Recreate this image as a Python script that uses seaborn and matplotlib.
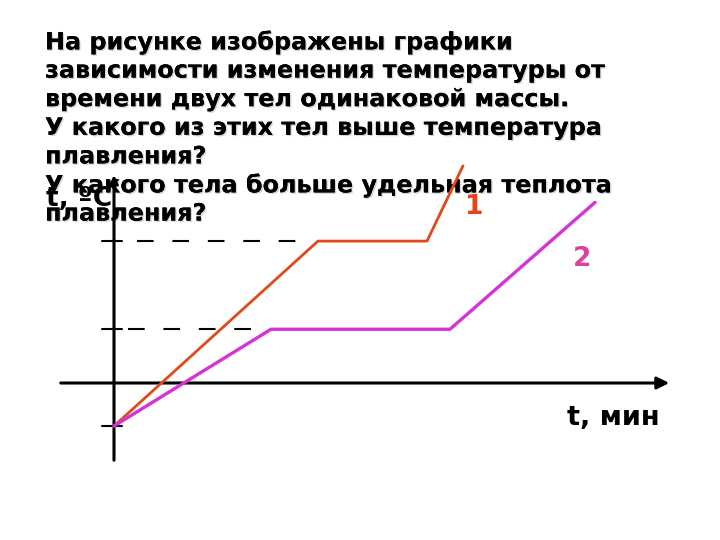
import pandas as pd
import seaborn as sns
import matplotlib.pyplot as plt
import matplotlib.patheffects as pe

# --- данные (читаются с картинки) ---
body1_time = [0, 20.4, 31.3, 34.9]
body1_temp = [-20, 66, 66, 101]
body2_time = [0, 15.7, 33.6, 48.1]
body2_temp = [-20, 25, 25, 84]
level_temps = [66, 25, -20]

question_lines = [
    "На рисунке изображены графики",
    "зависимости изменения температуры от",
    "времени двух тел одинаковой массы.",
    "У какого из этих тел выше температура",
    "плавления?",
    "У какого тела больше удельная теплота",
    "плавления?",
]

df = pd.concat([
    pd.DataFrame({"t": body1_time, "T": body1_temp, "тело": "1"}),
    pd.DataFrame({"t": body2_time, "T": body2_temp, "тело": "2"}),
])

sns.set_style("white")
plt.rcParams['font.family'] = ['DejaVu Sans']
plt.rcParams['text.color'] = 'black'

fig = plt.figure(figsize=(7.2, 5.4), dpi=100)
ax = fig.add_axes([0, 0, 1, 1])
ax.set_xlim(-11.4, 60.6)
ax.set_ylim(-73.02, 178.14)
ax.axis("off")

shadow = [pe.withSimplePatchShadow(offset=(1.0, -1.0), shadow_rgbFace="#aaaaaa", alpha=0.5), pe.Normal()]

# текст вопроса
for i, line in enumerate(question_lines):
    ax.text(45 / 720, 1 - (42 + 28.6 * i) / 540, line, transform=ax.transAxes,
            fontsize=17.2, fontweight="bold", va="center", ha="left",
            color="black", zorder=1, path_effects=shadow)

# оси
ax.annotate("", xy=(0, 98), xytext=(0, -37.2),
            arrowprops=dict(arrowstyle="-|>", lw=2.2, color="black", mutation_scale=12),
            zorder=2)
ax.annotate("", xy=(55.8, 0), xytext=(-5.6, 0),
            arrowprops=dict(arrowstyle="-|>", lw=2.2, color="black", mutation_scale=18),
            zorder=2)

# уровни температур
for T in level_temps:
    ax.plot([-1.2, 0.8], [T, T], color="black", lw=1.5, zorder=2)
ax.plot([2.3, 19.4], [66, 66], color="black", lw=1.5, ls=(0, (8, 9)), zorder=2)
ax.plot([1.4, 14.2], [25, 25], color="black", lw=1.5, ls=(0, (8, 9)), zorder=2)

sns.lineplot(data=df, x="t", y="T", hue="тело", palette=["#E04A1A", "#D633D6"],
             sort=False, legend=False, ax=ax, zorder=3)
ax.lines[-2].set_linewidth(2.0)
ax.lines[-1].set_linewidth(2.4)
ax.set_xlabel("")
ax.set_ylabel("")

# подписи
ax.text(36.0, 82, "1", color="#E8401A", fontsize=19,
        fontweight="bold", ha="center", va="center", zorder=3)
ax.text(46.8, 57.7, "2", color="#E0409A", fontsize=19,
        fontweight="bold", ha="center", va="center", zorder=3)
ax.text(-0.2, 85.6, "t, ºC", fontsize=19, fontweight="bold", ha="right",
        va="center", color="black", zorder=1)
ax.text(54.6, -16.3, "t, мин", fontsize=19.5, fontweight="bold", ha="right",
        va="center", color="black", zorder=3)

fig.savefig("out.png", dpi=100)
